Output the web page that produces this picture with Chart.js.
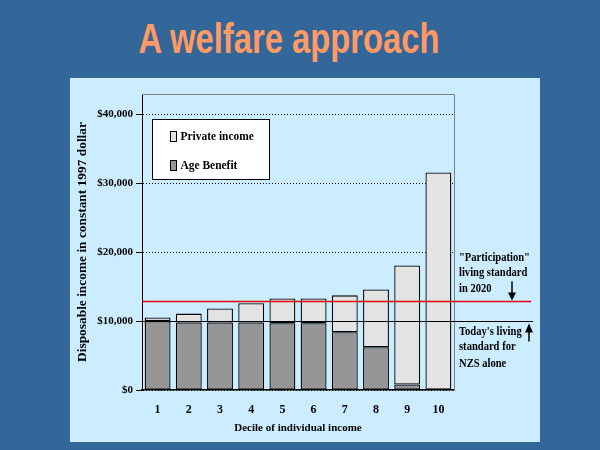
<!DOCTYPE html>
<html>
<head>
<meta charset="utf-8">
<script src="https://cdn.jsdelivr.net/npm/chart.js@4/dist/chart.umd.min.js"></script>
<style>
  html, body { margin: 0; padding: 0; }
  body { width: 600px; height: 450px; background: #336699; position: relative; overflow: hidden; }
  h1 {
    position: absolute; left: 0; width: 578px; top: 18px; margin: 0;
    text-align: center; font: bold 42px/42px "Liberation Sans", Arial, sans-serif;
    color: #FF9966; transform: scaleX(0.78); transform-origin: 289px 0;
  }
  #panel { position: absolute; left: 70px; top: 78px; width: 470px; height: 364px; background: #CCECFF; }
</style>
</head>
<body>
<h1>A welfare approach</h1>
<div id="panel"><canvas id="welfare"></canvas></div>
<script>
// data
const deciles = ["1", "2", "3", "4", "5", "6", "7", "8", "9", "10"];
const ageBenefit = [10000, 9800, 9800, 9800, 9700, 9700, 8400, 6200, 800, 0];
const privateIncome = [550, 1300, 2050, 2800, 3600, 3600, 5350, 8400, 17300, 31600];
const yTicks = [0, 10000, 20000, 30000, 40000];
const participationLevel = 12900;
const todayLevel = 10000;

const serif = "'Liberation Serif', 'Times New Roman', serif";

// frame, reference lines, notes and legend
const extras = {
  id: "extras",
  afterDatasetsDraw(chart) {
    const { ctx, chartArea: a, scales: { y } } = chart;
    ctx.save();
    // grey frame top/right
    ctx.strokeStyle = "#808080";
    ctx.lineWidth = 1;
    ctx.beginPath();
    ctx.moveTo(a.left, a.top + 0.5);
    ctx.lineTo(a.right + 0.5, a.top + 0.5);
    ctx.lineTo(a.right + 0.5, a.bottom);
    ctx.stroke();

    const yRed = Math.round(y.getPixelForValue(participationLevel)) + 0.5;
    const yBlack = Math.round(y.getPixelForValue(todayLevel)) + 0.5;

    ctx.strokeStyle = "#E00000";
    ctx.lineWidth = 1.5;
    ctx.beginPath();
    ctx.moveTo(a.left, yRed);
    ctx.lineTo(a.right + 77, yRed);
    ctx.stroke();

    ctx.strokeStyle = "#000";
    ctx.lineWidth = 1;
    ctx.beginPath();
    ctx.moveTo(a.left, yBlack);
    ctx.lineTo(a.right + 79, yBlack);
    ctx.stroke();

    // arrows
    const ax1 = a.right + 58, ax2 = a.right + 75;
    ctx.fillStyle = "#000";
    ctx.lineWidth = 1.5;
    ctx.beginPath();
    ctx.moveTo(ax1, yRed - 20);
    ctx.lineTo(ax1, yRed - 8);
    ctx.stroke();
    ctx.beginPath();
    ctx.moveTo(ax1 - 4, yRed - 9);
    ctx.lineTo(ax1 + 4, yRed - 9);
    ctx.lineTo(ax1, yRed - 1);
    ctx.closePath();
    ctx.fill();
    ctx.beginPath();
    ctx.moveTo(ax2, yBlack + 10);
    ctx.lineTo(ax2, yBlack + 20);
    ctx.stroke();
    ctx.beginPath();
    ctx.moveTo(ax2 - 4, yBlack + 11);
    ctx.lineTo(ax2 + 4, yBlack + 11);
    ctx.lineTo(ax2, yBlack + 2);
    ctx.closePath();
    ctx.fill();

    // notes
    ctx.font = "bold 12px " + serif;
    ctx.textBaseline = "middle";
    const tx = a.right + 5;
    const note = (s, yy) => {
      ctx.save();
      ctx.translate(tx, yy);
      ctx.scale(0.88, 1);
      ctx.fillText(s, 0, 0);
      ctx.restore();
    };
    note("\"Participation\"", yRed - 44);
    note("living standard", yRed - 29);
    note("in 2020", yRed - 13);
    note("Today's living", yBlack + 10);
    note("standard for", yBlack + 25);
    note("NZS alone", yBlack + 42);

    // legend
    const lx = a.left + 10.5, ly = a.top + 25.5;
    ctx.fillStyle = "#fff";
    ctx.fillRect(lx, ly, 117, 60);
    ctx.strokeStyle = "#000";
    ctx.lineWidth = 1;
    ctx.strokeRect(lx, ly, 117, 60);
    ctx.font = "bold 13px " + serif;
    const items = [chart.data.datasets[1], chart.data.datasets[0]];
    items.forEach((ds, i) => {
      const cy = ly + 17 + i * 29;
      ctx.fillStyle = ds.backgroundColor;
      ctx.fillRect(lx + 18, cy - 5, 6, 10);
      ctx.strokeRect(lx + 18, cy - 5, 6, 10);
      ctx.fillStyle = "#000";
      ctx.save();
      ctx.translate(lx + 28, cy);
      ctx.scale(0.88, 1);
      ctx.fillText(ds.label, 0, 0);
      ctx.restore();
    });
    ctx.restore();
  }
};

new Chart(document.getElementById("welfare"), {
  type: "bar",
  data: {
    labels: deciles,
    datasets: [
      {
        label: "Age Benefit",
        data: ageBenefit,
        backgroundColor: "#969696",
        borderColor: "#000",
        borderWidth: 1.3,
        borderSkipped: false,
      },
      {
        label: "Private income",
        data: privateIncome,
        backgroundColor: "#E3E3E3",
        borderColor: "#000",
        borderWidth: 1.3,
        borderSkipped: false,
      },
    ],
  },
  options: {
    responsive: true,
    maintainAspectRatio: false,
    animation: false,
    layout: { padding: { top: 16, right: 86, left: 0, bottom: 0 } },
    datasets: { bar: { barPercentage: 0.83, categoryPercentage: 1 } },
    plugins: {
      legend: { display: false },
      tooltip: { enabled: false },
    },
    scales: {
      x: {
        stacked: true,
        grid: { display: false },
        border: { color: "#000", width: 1.5 },
        ticks: { color: "#000", padding: 5, font: { family: serif, size: 12, weight: "bold" } },
        title: {
          display: true,
          text: "Decile of individual income",
          color: "#000",
          padding: { top: 0, bottom: 7 },
          font: { family: serif, size: 11, weight: "bold" },
        },
        afterFit(scale) { scale.height = 52; },
      },
      y: {
        stacked: true,
        min: 0,
        max: 43000,
        afterBuildTicks(scale) { scale.ticks = yTicks.map(v => ({ value: v })); },
        grid: {
          color: "#000",
          lineWidth: 1,
          tickLength: 6,
          tickColor: "#000",
          tickBorderDash: [],
        },
        border: { color: "#000", width: 1, dash: [1, 2] },
        ticks: {
          color: "#000",
          padding: 3,
          font: { family: serif, size: 11, weight: "bold" },
          callback: v => "$" + v.toLocaleString("en-US"),
        },
        title: {
          display: true,
          text: "Disposable income in constant 1997 dollar",
          color: "#000",
          padding: { top: 5, bottom: 0 },
          font: { family: serif, size: 13.4, weight: "bold" },
        },
        afterFit(scale) { scale.width = 72; },
      },
    },
  },
  plugins: [extras],
});
</script>
</body>
</html>
